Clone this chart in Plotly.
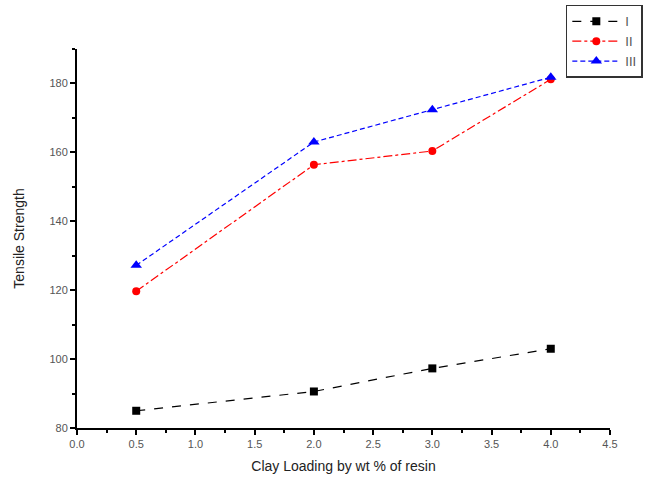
import plotly.graph_objects as go

clay_loading = [0.5, 2.0, 3.0, 4.0]
strength_I = [85.0, 90.6, 97.3, 103.0]
strength_II = [119.7, 156.4, 160.4, 181.2]
strength_III = [127.2, 163.0, 172.4, 181.8]

series = [
    ("I", strength_I, "black", "square", "dash", 8),
    ("II", strength_II, "red", "circle", "dashdot", 8),
    ("III", strength_III, "blue", "triangle-up", "5px,3px", 10),
]

fig = go.Figure()
for name, vals, color, symbol, dash, msize in series:
    fig.add_trace(go.Scatter(
        x=clay_loading, y=vals, name=name, mode="lines+markers",
        line=dict(color=color, width=1.2, dash=dash),
        marker=dict(symbol=symbol, size=msize, color=color),
    ))

axis_common = dict(
    showgrid=False, zeroline=False, showline=True, linecolor="black", linewidth=2,
    ticks="outside", ticklen=5, tickwidth=1.5, tickcolor="black",
    tickfont=dict(family="Liberation Sans, Arial", size=11, color="#555"),
    mirror=False,
)

fig.update_layout(
    width=661, height=487,
    margin=dict(l=77, r=51, t=49, b=59, autoexpand=False),
    plot_bgcolor="white", paper_bgcolor="white",
    font=dict(family="Liberation Sans, Arial", color="#222"),
    xaxis=dict(range=[0, 4.5], dtick=0.5, tickformat=".1f",
               minor=dict(ticks="outside", ticklen=3, dtick=0.25, tickcolor="black"),
               title=dict(text="Clay Loading by wt % of resin", font=dict(size=14), standoff=12),
               **axis_common),
    yaxis=dict(range=[80, 190], tickvals=[80, 100, 120, 140, 160, 180],
               minor=dict(ticks="outside", ticklen=3, dtick=10, tickcolor="black"),
               title=dict(text="Tensile Strength", font=dict(size=14), standoff=22),
               **axis_common),
    legend=dict(xref="container", yref="container", x=0.856, y=0.99,
                xanchor="left", yanchor="top",
                bordercolor="#333", borderwidth=1.5, bgcolor="white",
                font=dict(size=13, color="#555"), tracegroupgap=0, itemwidth=48),
    showlegend=True,
)

fig.write_html("out.html")
